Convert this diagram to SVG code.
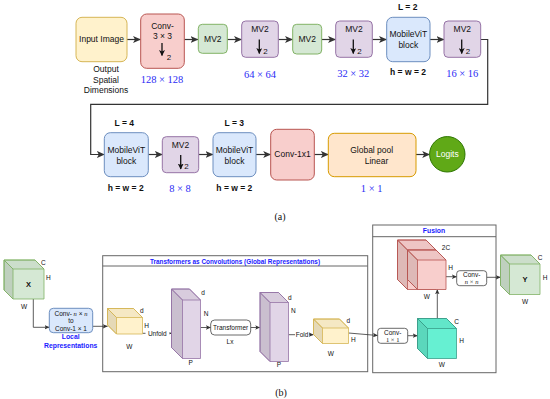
<svg xmlns="http://www.w3.org/2000/svg" width="550" height="399" viewBox="0 0 550 399">
<style>
text{font-family:"Liberation Sans",Arial,sans-serif;text-anchor:middle;fill:#111}
.t{font-size:8.5px}
.b{font-weight:bold}
.m{font-family:"Liberation Serif","Times New Roman",serif;font-size:10.5px;fill:#2b2bf5}
.s{font-size:6.5px}
.bt{font-weight:bold;fill:#1a1aff}
.it{font-family:"Liberation Serif",serif;font-style:italic}
.ser{font-family:"Liberation Serif",serif}
.yel{fill:#fff2cc;stroke:#d6b656}
.red{fill:#f8cecc;stroke:#b85450}
.grn{fill:#d5e8d4;stroke:#82b366}
.pur{fill:#e1d5e7;stroke:#9673a6}
.blu{fill:#dae8fc;stroke:#6c8ebf}
.org{fill:#ffe6cc;stroke:#d79b00}
.wb{fill:#fff;stroke:#444;stroke-width:0.8}
.top{fill:#000;fill-opacity:0.04}
.lft{fill:#000;fill-opacity:0.1}
.ea{fill:none;stroke:#333;stroke-width:1.2;marker-end:url(#ah)}
.eb{fill:none;stroke:#333;stroke-width:0.8;marker-end:url(#ahs)}
.dn{fill:none;stroke:#111;stroke-width:1.3;marker-end:url(#ahd)}
.cont{fill:#fff;stroke:#666;stroke-width:1}
</style>
<defs>
<marker id="ah" markerUnits="userSpaceOnUse" markerWidth="8" markerHeight="7" viewBox="0 0 8 7" refX="7.5" refY="3.5" orient="auto"><path d="M0,0 L8,3.5 L0,7 L2,3.5z" fill="#333"/></marker>
<marker id="ahs" markerUnits="userSpaceOnUse" markerWidth="5" markerHeight="4.5" viewBox="0 0 5 4.5" refX="4.8" refY="2.25" orient="auto"><path d="M0,0 L5,2.25 L0,4.5 L1.2,2.25z" fill="#333"/></marker>
<marker id="ahd" markerUnits="userSpaceOnUse" markerWidth="6" markerHeight="6" viewBox="0 0 6 6" refX="5.5" refY="3" orient="auto"><path d="M0,0 L6,3 L0,6 L1.5,3z" fill="#111"/></marker>
</defs>

<!-- (a) connectors -->
<g id="connectors-a">
<path class="ea" d="M127,39.5 H140.5"/>
<path class="ea" d="M184.3,39.5 H198"/>
<path class="ea" d="M227.3,39.5 H241.5"/>
<path class="ea" d="M278.3,39.5 H292.5"/>
<path class="ea" d="M321.7,39.5 H335.5"/>
<path class="ea" d="M372.3,39.5 H386.5"/>
<path class="ea" d="M430,39.5 H444"/>
<path class="ea" d="M480.7,39.5 H487.7 V104.3 H90.7 V154.5 H104.3"/>
<path class="ea" d="M148.3,154.5 H162.3"/>
<path class="ea" d="M198.7,154.5 H213"/>
<path class="ea" d="M256,154.5 H270.7"/>
<path class="ea" d="M314.3,154.5 H328.3"/>
<path class="ea" d="M416,154.5 H429.7"/>
</g>

<g id="input">
<rect class="yel" x="76" y="17.3" width="51" height="44.4" rx="6"/>
<text class="t" x="101.5" y="42.3">Input Image</text>
<text class="t" x="106" y="72.3">Output</text>
<text class="t" x="106" y="82.9">Spatial</text>
<text class="t" x="106" y="93.4">Dimensions</text>
</g>
<g id="conv3">
<rect class="red" x="140.7" y="14" width="43.6" height="54.3" rx="6"/>
<text class="t" x="162.5" y="29">Conv-</text>
<text class="t" x="162.5" y="39">3 × 3</text>
<path class="dn" d="M162,43 V55.5"/>
<text class="t" x="169" y="60" style="font-size:8px">2</text>
<text class="m" x="162" y="82.5">128 × 128</text>
</g>
<g id="mv2-1">
<rect class="grn" x="198.3" y="24.3" width="29" height="29" rx="4"/>
<text class="t" x="212.8" y="42.3">MV2</text>
</g>
<g id="mv2-2">
<rect class="pur" x="241.7" y="21" width="36.6" height="36.3" rx="4"/>
<text class="t" x="260" y="32">MV2</text>
<path class="dn" d="M259.3,39.5 V53.5"/>
<text class="t" x="265.5" y="53.5" style="font-size:8px">2</text>
<text class="m" x="260" y="77.5">64 × 64</text>
</g>
<g id="mv2-3">
<rect class="grn" x="292.7" y="24.3" width="29" height="29.7" rx="4"/>
<text class="t" x="307.2" y="42.3">MV2</text>
</g>
<g id="mv2-4">
<rect class="pur" x="335.7" y="21" width="36.6" height="36.3" rx="4"/>
<text class="t" x="354" y="32">MV2</text>
<path class="dn" d="M353.3,39.5 V53.5"/>
<text class="t" x="359.5" y="53.5" style="font-size:8px">2</text>
<text class="m" x="353.3" y="76.5">32 × 32</text>
</g>
<g id="mvit-1">
<rect class="blu" x="386.7" y="17.3" width="43.3" height="44.4" rx="6"/>
<text class="t" x="408.3" y="37.3">MobileViT</text>
<text class="t" x="408.3" y="48">block</text>
<text class="t b" x="407.7" y="9.7">L = 2</text>
<text class="t b" x="408" y="75">h = w = 2</text>
</g>
<g id="mv2-5">
<rect class="pur" x="444" y="21" width="36.7" height="36.3" rx="4"/>
<text class="t" x="462.3" y="32">MV2</text>
<path class="dn" d="M461.7,39.5 V53.5"/>
<text class="t" x="467.9" y="53.5" style="font-size:8px">2</text>
<text class="m" x="462.3" y="76.5">16 × 16</text>
</g>
<g id="mvit-2">
<rect class="blu" x="104.3" y="132.7" width="44" height="44" rx="6"/>
<text class="t" x="126.3" y="153">MobileViT</text>
<text class="t" x="126.3" y="163.7">block</text>
<text class="t b" x="124.3" y="125.7">L = 4</text>
<text class="t b" x="125.7" y="190.5">h = w = 2</text>
</g>
<g id="mv2-6">
<rect class="pur" x="162.3" y="136.7" width="36.4" height="36" rx="4"/>
<text class="t" x="180.5" y="147.5">MV2</text>
<path class="dn" d="M180.7,155 V169"/>
<text class="t" x="186.5" y="169" style="font-size:8px">2</text>
<text class="m" x="180" y="191.8">8 × 8</text>
</g>
<g id="mvit-3">
<rect class="blu" x="213" y="132.7" width="43" height="44" rx="6"/>
<text class="t" x="234.5" y="153">MobileViT</text>
<text class="t" x="234.5" y="163.7">block</text>
<text class="t b" x="234.3" y="125.7">L = 3</text>
<text class="t b" x="234.3" y="190.5">h = w = 2</text>
</g>
<g id="conv1x1">
<rect class="red" x="270.7" y="129.3" width="43.6" height="50.7" rx="6"/>
<text class="t" x="292.5" y="157.3">Conv-1x1</text>
</g>
<g id="pool">
<rect class="org" x="328.3" y="133.3" width="87.7" height="43.4" rx="6"/>
<text class="t" x="371.7" y="153">Global pool</text>
<text class="t" x="376.5" y="163.7">Linear</text>
<text class="m" x="371.7" y="191.8">1 × 1</text>
</g>
<g id="logits">
<circle cx="447.3" cy="154.3" r="17.7" fill="#60a917" stroke="#2d7600"/>
<text class="t" x="447.3" y="157.3" style="fill:#fff">Logits</text>
</g>
<text class="ser" x="280" y="220" style="font-size:10px">(a)</text>

<!-- (b) containers -->
<g id="transformers-box">
<rect class="cont" x="102.7" y="255.7" width="265" height="116"/>
<line x1="102.7" y1="266" x2="367.7" y2="266" stroke="#666"/>
<text class="bt" x="235" y="263.6" style="font-size:6.4px">Transformers as Convolutions (Global Representations)</text>
</g>
<g id="fusion-box">
<rect class="cont" x="372.7" y="225" width="123.3" height="147.7"/>
<line x1="372.7" y1="236.7" x2="496" y2="236.7" stroke="#666"/>
<text class="bt" x="434" y="233.4" style="font-size:6.8px">Fusion</text>
</g>

<!-- (b) connectors -->
<g id="connectors-b">
<path class="eb" d="M33.3,299 V327.3 H49.3"/>
<path class="eb" d="M92.7,326.3 H107.5"/>
<path class="eb" d="M142.5,333.3 H171.5"/>
<path class="eb" d="M200.5,327.5 H210.7"/>
<path class="eb" d="M250.7,327.5 H260"/>
<path class="eb" d="M288.5,334.7 H313.5"/>
<path class="eb" d="M348.5,333 L377.7,335.5"/>
<path class="eb" d="M407.7,335.7 H417.5"/>
<path class="eb" d="M437.3,318.5 V289.5"/>
<path class="eb" d="M446,276.7 H456.7"/>
<path class="eb" d="M486.7,277.3 H500.5"/>
<rect x="145.5" y="329.5" width="24" height="7.5" fill="#fff"/>
<text class="s" x="157.3" y="335.6">Unfold</text>
<rect x="295" y="331" width="14" height="7.5" fill="#fff"/>
<text class="s" x="302" y="337">Fold</text>
</g>

<g id="x-cube" stroke="#82b366" stroke-width="0.8">
<polygon fill="#d5e8d4" points="4,260 35,260 44,269 44,299 13,299 4,290"/>
<polygon class="top" points="4,260 35,260 44,269 13,269"/>
<polygon class="lft" points="4,260 13,269 13,299 4,290"/>
</g>
<g id="x-labels">
<text class="b" x="28.5" y="287" style="font-size:7.5px">X</text>
<text class="s" x="43.3" y="264.6">C</text>
<text class="s" x="48.3" y="279.6">H</text>
<text class="s" x="24" y="309">W</text>
</g>

<g id="local-conv">
<rect class="blu" x="49.3" y="308.3" width="43.4" height="24.4" rx="4"/>
<text class="s" x="71" y="315.6">Conv- <tspan class="it">n</tspan> × <tspan class="it">n</tspan></text>
<text class="s" x="71" y="323.3">to</text>
<text class="s" x="71" y="331.3">Conv-1 × 1</text>
<text class="bt" x="70.7" y="339.4" style="font-size:6.8px">Local</text>
<text class="bt" x="70.7" y="348" style="font-size:6.8px">Representations</text>
</g>

<g id="yellow-1" stroke="#d6b656" stroke-width="0.8">
<polygon fill="#fff2cc" points="107.5,308.5 133.5,308.5 142.5,317.5 142.5,334 116.5,334 107.5,325"/>
<polygon class="top" points="107.5,308.5 133.5,308.5 142.5,317.5 116.5,317.5"/>
<polygon class="lft" points="107.5,308.5 116.5,317.5 116.5,334 107.5,325"/>
</g>
<g id="yellow-1-labels">
<text class="s" x="141.7" y="313.3">d</text>
<text class="s" x="146.7" y="328.3">H</text>
<text class="s" x="129.3" y="349">W</text>
</g>

<g id="purple-1" stroke="#9673a6" stroke-width="0.8">
<polygon fill="#e1d5e7" points="171.5,289 189.5,289 200.5,300 200.5,358.5 182.5,358.5 171.5,347.5"/>
<polygon class="top" points="171.5,289 189.5,289 200.5,300 182.5,300"/>
<polygon class="lft" points="171.5,289 182.5,300 182.5,358.5 171.5,347.5"/>
</g>
<g id="purple-1-labels">
<text class="s" x="203" y="294.6">d</text>
<text class="s" x="206" y="315.6">N</text>
<text class="s" x="190.7" y="364.6">P</text>
</g>

<g id="transformer">
<rect class="wb" x="210.7" y="320" width="40" height="15" rx="4"/>
<text class="s" x="230.7" y="330">Transformer</text>
<text class="s" x="230" y="344.3">Lx</text>
</g>

<g id="purple-2" stroke="#9673a6" stroke-width="0.8">
<polygon fill="#e1d5e7" points="260,292.5 278.5,292.5 288.5,302.5 288.5,361.5 270,361.5 260,351.5"/>
<polygon class="top" points="260,292.5 278.5,292.5 288.5,302.5 270,302.5"/>
<polygon class="lft" points="260,292.5 270,302.5 270,361.5 260,351.5"/>
</g>
<g id="purple-2-labels">
<text class="s" x="289.8" y="299.6">d</text>
<text class="s" x="293.3" y="313">N</text>
<text class="s" x="279" y="367.3">P</text>
</g>

<g id="yellow-2" stroke="#d6b656" stroke-width="0.8">
<polygon fill="#fff2cc" points="313.5,319 339.5,319 348.5,328 348.5,343.5 322.5,343.5 313.5,334.5"/>
<polygon class="top" points="313.5,319 339.5,319 348.5,328 322.5,328"/>
<polygon class="lft" points="313.5,319 322.5,328 322.5,343.5 313.5,334.5"/>
</g>
<g id="yellow-2-labels">
<text class="s" x="348.3" y="323">d</text>
<text class="s" x="353.3" y="341.6">H</text>
<text class="s" x="330.7" y="356.3">W</text>
</g>

<g id="fusion-conv1">
<rect class="wb" x="377.7" y="328.3" width="30" height="15" rx="3"/>
<text class="s" x="392.7" y="334.5">Conv-</text>
<text class="s ser" x="392.7" y="342">1 × 1</text>
</g>

<g id="teal-cube" stroke="#3a9e8a" stroke-width="0.8">
<polygon fill="#66f0d2" points="417.5,318.5 446.5,318.5 456.5,328.5 456.5,358.5 427.5,358.5 417.5,348.5"/>
<polygon class="top" points="417.5,318.5 446.5,318.5 456.5,328.5 427.5,328.5"/>
<polygon class="lft" points="417.5,318.5 427.5,328.5 427.5,358.5 417.5,348.5"/>
</g>
<g id="teal-labels">
<text class="s" x="456.7" y="324">C</text>
<text class="s" x="461.7" y="343">H</text>
<text class="s" x="441.7" y="367.3">W</text>
</g>

<g id="red-cube" stroke="#b85450" stroke-width="0.8">
<polygon fill="#f8cecc" points="397.5,240 426,240 436,250 436,289.5 407.5,289.5 397.5,279.5"/>
<polygon class="top" points="397.5,240 426,240 436,250 407.5,250"/>
<polygon class="lft" points="397.5,240 407.5,250 407.5,289.5 397.5,279.5"/>
<polygon fill="#f8cecc" points="407.5,250 436,250 446,260 446,289.5 417.5,289.5 407.5,279.5"/>
<polygon class="top" points="407.5,250 436,250 446,260 417.5,260"/>
<polygon class="lft" points="407.5,250 417.5,260 417.5,289.5 407.5,279.5"/>
</g>
<g id="red-labels">
<text class="s" x="446" y="250">2C</text>
<text class="s" x="450.7" y="269.6">H</text>
<text class="s" x="426.7" y="299">W</text>
</g>

<g id="fusion-convn">
<rect class="wb" x="456.7" y="270.7" width="30" height="15" rx="3"/>
<text class="s" x="471.7" y="276.5">Conv-</text>
<text class="s" x="471.7" y="284"><tspan class="it">n</tspan> <tspan class="ser">×</tspan> <tspan class="it">n</tspan></text>
</g>

<g id="y-cube" stroke="#82b366" stroke-width="0.8">
<polygon fill="#d5e8d4" points="500.5,255 531,255 540,264 540,294.5 509.5,294.5 500.5,285.5"/>
<polygon class="top" points="500.5,255 531,255 540,264 509.5,264"/>
<polygon class="lft" points="500.5,255 509.5,264 509.5,294.5 500.5,285.5"/>
</g>
<g id="y-labels">
<text class="b" x="525" y="282" style="font-size:7.5px">Y</text>
<text class="s" x="540" y="260">C</text>
<text class="s" x="545" y="279.6">H</text>
<text class="s" x="525" y="304">W</text>
</g>

<text class="ser" x="281" y="395.5" style="font-size:10px">(b)</text>
</svg>
